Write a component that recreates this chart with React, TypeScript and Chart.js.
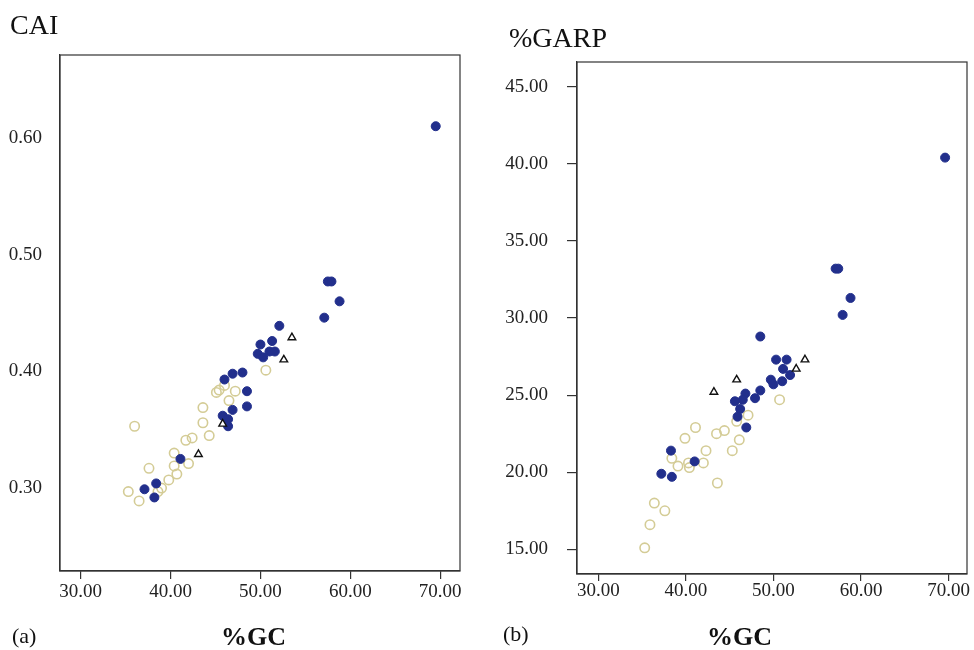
import React, { useEffect, useRef } from "react";
import { Chart, registerables } from "chart.js";

Chart.register(...registerables);

// ---------- Panel (a): CAI vs %GC ----------
const aFilledGC = [69.5, 57.5, 57.9, 58.8, 57.1, 52.1, 50.0, 51.3, 49.7, 51.0, 51.6, 50.3, 46.9, 48.0, 46.0, 48.5, 48.5, 46.9, 45.8, 46.4, 46.4, 41.1, 37.1, 38.4, 38.2];
const aFilledCAI = [0.610, 0.477, 0.477, 0.460, 0.446, 0.439, 0.423, 0.426, 0.415, 0.417, 0.417, 0.412, 0.398, 0.399, 0.393, 0.383, 0.370, 0.367, 0.362, 0.359, 0.353, 0.325, 0.299, 0.304, 0.292];
const aOpenGC = [50.6, 46.0, 45.4, 47.2, 45.1, 46.5, 43.6, 43.6, 36.0, 42.4, 41.7, 44.3, 40.4, 37.6, 40.4, 42.0, 40.7, 39.8, 39.0, 38.6, 35.3, 36.5];
const aOpenCAI = [0.401, 0.388, 0.384, 0.383, 0.382, 0.375, 0.369, 0.356, 0.353, 0.343, 0.341, 0.345, 0.330, 0.317, 0.319, 0.321, 0.312, 0.307, 0.300, 0.297, 0.297, 0.289];
const aTriGC = [53.5, 52.6, 45.8, 43.1];
const aTriCAI = [0.429, 0.410, 0.355, 0.329];
const aXTicks = [30, 40, 50, 60, 70];
const aYTicks = [0.3, 0.4, 0.5, 0.6];

// ---------- Panel (b): %GARP vs %GC ----------
const bFilledGC = [69.6, 57.1, 57.4, 58.8, 57.9, 48.5, 50.3, 51.5, 51.1, 49.7, 51.0, 50.0, 51.9, 48.5, 47.9, 46.8, 46.5, 45.6, 46.2, 45.9, 46.9, 38.3, 41.0, 37.2, 38.4];
const bFilledGARP = [40.4, 33.2, 33.2, 31.3, 30.2, 28.8, 27.3, 27.3, 26.7, 26.0, 25.9, 25.7, 26.3, 25.3, 24.8, 25.1, 24.7, 24.6, 24.1, 23.6, 22.9, 21.4, 20.7, 19.9, 19.7];
const bOpenGC = [50.7, 47.1, 45.8, 41.1, 44.4, 43.5, 39.9, 46.1, 42.3, 45.3, 38.4, 39.1, 40.4, 40.3, 42.0, 43.6, 36.4, 37.6, 35.9, 35.3];
const bOpenGARP = [24.7, 23.7, 23.3, 22.9, 22.7, 22.5, 22.2, 22.1, 21.4, 21.4, 20.9, 20.4, 20.3, 20.6, 20.6, 19.3, 18.0, 17.5, 16.6, 15.1];
const bTriGC = [53.6, 52.6, 45.8, 43.2];
const bTriGARP = [27.3, 26.7, 26.0, 25.2];
const bXTicks = [30, 40, 50, 60, 70];
const bYTicks = [15, 20, 25, 30, 35, 40, 45];

const NAVY = "#222f8c";
const BEIGE = "#d4cc96";
const AXIS = "#333333";
const FONT = '"Liberation Serif", "Times New Roman", serif';

const toPts = (xs: number[], ys: number[]) => xs.map((x, i) => ({ x, y: ys[i] }));

const boxPlugin = {
  id: "box",
  afterDraw(chart: any) {
    const { ctx, chartArea } = chart;
    ctx.save();
    ctx.strokeStyle = AXIS;
    ctx.lineWidth = 1.2;
    ctx.strokeRect(chartArea.left, chartArea.top, chartArea.right - chartArea.left, chartArea.bottom - chartArea.top);
    ctx.restore();
  },
};

type PanelCfg = {
  filled: { x: number; y: number }[];
  open: { x: number; y: number }[];
  tri: { x: number; y: number }[];
  xMin: number; xMax: number; yMin: number; yMax: number;
  xTicks: number[]; yTicks: number[];
  padTop: number; padRight: number;
  yWidth: number; xHeight: number;
  yTickLen: number; yPad: number;
  xTickLen: number; xPad: number;
};

function makeChart(canvas: HTMLCanvasElement, c: PanelCfg) {
  return new Chart(canvas, {
    type: "scatter",
    data: {
      datasets: [
        {
          label: "tri",
          data: c.tri,
          pointStyle: "triangle",
          pointRadius: 4.4,
          pointBorderWidth: 1.4,
          pointBorderColor: "#111",
          pointBackgroundColor: "#ffffff",
        },
        {
          label: "filled",
          data: c.filled,
          pointStyle: "circle",
          pointRadius: 4.5,
          pointBorderWidth: 1,
          pointBorderColor: NAVY,
          pointBackgroundColor: NAVY,
        },
        {
          label: "open",
          data: c.open,
          pointStyle: "circle",
          pointRadius: 4.7,
          pointBorderWidth: 1.6,
          pointBorderColor: BEIGE,
          pointBackgroundColor: "rgba(255,255,255,0)",
        },
      ],
    },
    options: {
      responsive: false,
      animation: false,
      devicePixelRatio: 1,
      layout: { padding: { top: c.padTop, right: c.padRight, left: 0, bottom: 0 } },
      plugins: { legend: { display: false }, tooltip: { enabled: false } },
      scales: {
        x: {
          type: "linear",
          position: "bottom",
          min: c.xMin,
          max: c.xMax,
          afterBuildTicks: (s: any) => { s.ticks = c.xTicks.map((v) => ({ value: v })); },
          afterFit: (s: any) => { s.height = c.xHeight; },
          ticks: {
            autoSkip: false,
            maxRotation: 0,
            padding: c.xPad,
            color: "#222",
            font: { family: FONT, size: 19 },
            callback: (v: any) => Number(v).toFixed(2),
          },
          grid: { display: true, drawOnChartArea: false, drawTicks: true, tickLength: c.xTickLen, color: AXIS, lineWidth: 1.2 },
          border: { display: true, color: AXIS, width: 1.2 },
        },
        y: {
          type: "linear",
          position: "left",
          min: c.yMin,
          max: c.yMax,
          afterBuildTicks: (s: any) => { s.ticks = c.yTicks.map((v) => ({ value: v })); },
          afterFit: (s: any) => { s.width = c.yWidth; },
          ticks: {
            autoSkip: false,
            padding: c.yPad,
            color: "#222",
            font: { family: FONT, size: 19 },
            callback: (v: any) => Number(v).toFixed(2),
          },
          grid: { display: true, drawOnChartArea: false, drawTicks: c.yTickLen > 0, tickLength: c.yTickLen, color: AXIS, lineWidth: 1.2 },
          border: { display: true, color: AXIS, width: 1.2 },
        },
      },
    },
    plugins: [boxPlugin],
  } as any);
}

export default function App() {
  const refA = useRef<HTMLCanvasElement>(null);
  const refB = useRef<HTMLCanvasElement>(null);

  useEffect(() => {
    const chA = makeChart(refA.current!, {
      filled: toPts(aFilledGC, aFilledCAI),
      open: toPts(aOpenGC, aOpenCAI),
      tri: toPts(aTriGC, aTriCAI),
      xMin: 27.7, xMax: 72.2, yMin: 0.229, yMax: 0.671,
      xTicks: aXTicks, yTicks: aYTicks,
      padTop: 55, padRight: 20, yWidth: 60, xHeight: 79,
      yTickLen: 0, yPad: 18, xTickLen: 8, xPad: 1.5,
    });
    const chB = makeChart(refB.current!, {
      filled: toPts(bFilledGC, bFilledGARP),
      open: toPts(bOpenGC, bOpenGARP),
      tri: toPts(bTriGC, bTriGARP),
      xMin: 27.57, xMax: 72.1, yMin: 13.4, yMax: 46.6,
      xTicks: bXTicks, yTicks: bYTicks,
      padTop: 62, padRight: 7, yWidth: 87, xHeight: 76,
      yTickLen: 10, yPad: 19, xTickLen: 7, xPad: -1,
    });
    return () => { chA.destroy(); chB.destroy(); };
  }, []);

  const txt = (s: any): React.CSSProperties => ({ position: "absolute", fontFamily: FONT, color: "#111", whiteSpace: "nowrap", ...s });

  return (
    <div style={{ position: "absolute", left: 0, top: 0, width: 974, height: 650, background: "#fff", overflow: "hidden" }}>
      <canvas ref={refA} width={480} height={650} style={{ position: "absolute", left: 0, top: 0, width: 480, height: 650 }} />
      <canvas ref={refB} width={484} height={650} style={{ position: "absolute", left: 490, top: 0, width: 484, height: 650 }} />
      <div style={txt({ left: 10, top: 11, fontSize: 28, lineHeight: "28px" })}>CAI</div>
      <div style={txt({ left: 509, top: 24, fontSize: 28, lineHeight: "28px" })}>%GARP</div>
      <div style={txt({ left: 153.5, width: 200, top: 624, fontSize: 26, lineHeight: "26px", fontWeight: "bold", textAlign: "center" })}>%GC</div>
      <div style={txt({ left: 639.5, width: 200, top: 624, fontSize: 26, lineHeight: "26px", fontWeight: "bold", textAlign: "center" })}>%GC</div>
      <div style={txt({ left: 12, top: 625, fontSize: 22, lineHeight: "22px" })}>(a)</div>
      <div style={txt({ left: 503, top: 623, fontSize: 22, lineHeight: "22px" })}>(b)</div>
    </div>
  );
}
